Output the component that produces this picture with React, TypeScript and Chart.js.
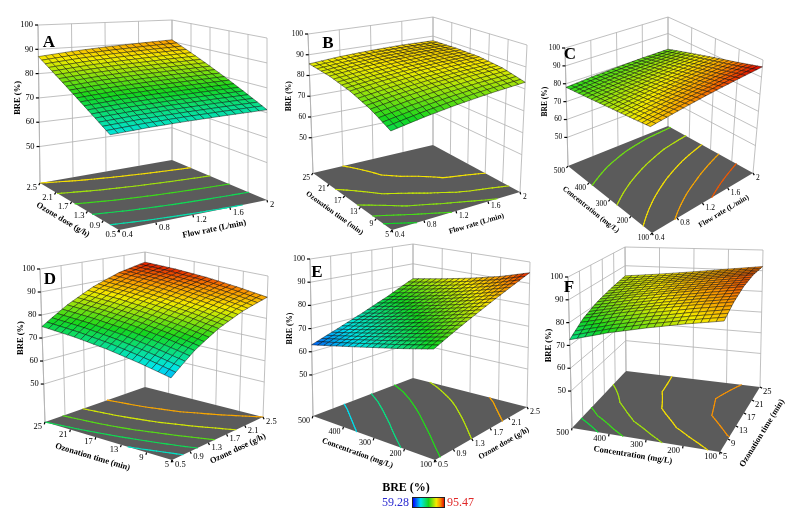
import { useEffect, useRef } from "react"
import { Chart, registerables, type Plugin } from "chart.js"

Chart.register(...registerables)

// positions of the sampled surface values on each factor
const flowRate = [0.4, 0.8, 1.2, 1.6, 2.0]
const ozoneDose = [0.5, 1.0, 1.5, 2.0, 2.5]
const ozonationTime = [5, 10, 15, 20, 25]
const concentration = [100, 200, 300, 400, 500]

// tick labels on the floor axes and the BRE axis
const flowTicks = [0.4, 0.8, 1.2, 1.6, 2]
const doseTicks = [0.5, 0.9, 1.3, 1.7, 2.1, 2.5]
const timeTicks = [5, 9, 13, 17, 21, 25]
const concTicks = [100, 200, 300, 400, 500]
const breTicks = [50, 60, 70, 80, 90, 100]

const breRange = [59.28, 95.47]

// BRE (%) read off the surfaces; rows follow the left floor axis, columns the right one
// A: rows ozone dose, columns flow rate
const breA = [
  [69.0, 69.9, 70.5, 70.9, 71.2],
  [73.5, 74.5, 75.2, 75.7, 76.1],
  [78.0, 79.1, 79.9, 80.5, 81.0],
  [82.5, 83.7, 84.6, 85.3, 85.9],
  [87.0, 88.3, 89.3, 90.1, 90.8],
]
// B: rows ozonation time, columns flow rate
const breB = [
  [75.0, 77.6, 79.8, 81.6, 83.0],
  [79.6, 81.8, 83.6, 85.0, 85.9],
  [82.8, 84.6, 86.0, 86.9, 87.4],
  [84.8, 86.2, 87.2, 87.7, 87.8],
  [85.6, 86.8, 87.5, 87.8, 87.6],
]
// C: rows concentration, columns flow rate
const breC = [
  [88.0, 90.2, 92.3, 94.2, 96.0],
  [85.6, 87.4, 89.1, 90.7, 92.2],
  [83.2, 84.7, 86.1, 87.4, 88.6],
  [80.6, 81.9, 83.0, 84.0, 84.7],
  [78.0, 79.0, 79.8, 80.3, 80.5],
]
// D: rows ozonation time, columns ozone dose
const breD = [
  [66.0, 74.2, 80.8, 86.0, 90.0],
  [69.0, 76.9, 83.2, 88.2, 92.0],
  [71.6, 79.2, 85.2, 90.0, 93.6],
  [73.6, 80.9, 86.8, 91.4, 94.6],
  [75.0, 82.0, 87.8, 92.2, 95.0],
]
// E: rows concentration, columns ozone dose
const breE = [
  [77.0, 81.4, 85.8, 90.3, 95.0],
  [73.4, 77.6, 81.9, 86.4, 91.0],
  [70.0, 74.0, 78.3, 82.8, 87.8],
  [66.5, 70.4, 74.7, 79.5, 85.0],
  [63.0, 66.9, 71.3, 76.4, 82.5],
]
// F: rows concentration, columns ozonation time
const breF = [
  [88.0, 91.2, 93.0, 93.3, 92.0],
  [85.0, 88.5, 90.5, 91.0, 90.2],
  [81.5, 85.4, 87.7, 88.5, 88.2],
  [77.5, 81.8, 84.5, 85.8, 86.3],
  [72.5, 77.6, 80.8, 82.9, 84.6],
]

type XY = [number, number]
type Corners = { F: XY; R: XY; L: XY; B: XY }
type Panel = {
  letter: string
  letterAt: XY
  box: [number, number, number, number]
  leftAxis: number[]
  rightAxis: number[]
  leftTicks: number[]
  rightTicks: number[]
  leftTitle: string
  rightTitle: string
  grid: number[][]
  levels: number[]
  floor: Corners
  top: Corners
  zFloor: number
  fs: number
  leftTitleAt?: [number, number]
  rightTitleAt?: [number, number]
}

const panels: Panel[] = [
  {
    letter: "A", letterAt: [49, 43], box: [0, 0, 280, 250],
    leftAxis: ozoneDose, rightAxis: flowRate, leftTicks: doseTicks, rightTicks: flowTicks,
    leftTitle: "Ozone dose (g/h)", rightTitle: "Flow rate (L/min)",
    grid: breA, levels: [71, 75, 79, 83, 87],
    floor: { F: [119, 230], R: [267, 200], L: [40, 183], B: [172, 160] },
    top: { F: [102, 48], R: [267, 38], L: [38, 25], B: [172, 20] },
    zFloor: 35, fs: 8.5,
  },
  {
    letter: "B", letterAt: [328, 44], box: [255, 0, 280, 250],
    leftAxis: ozonationTime, rightAxis: flowRate, leftTicks: timeTicks, rightTicks: flowTicks,
    leftTitle: "Ozonation time (min)", rightTitle: "Flow rate (L/min)",
    grid: breB, levels: [77, 79.5, 82, 84.5, 86.8],
    floor: { F: [392, 230], R: [520, 192], L: [313, 173], B: [433, 145] },
    top: { F: [390, 72], R: [527, 45], L: [308, 34], B: [433, 17] },
    zFloor: 33, fs: 7.5,
  },
  {
    letter: "C", letterAt: [570, 55], box: [510, 0, 276, 250],
    leftAxis: concentration, rightAxis: flowRate, leftTicks: concTicks, rightTicks: flowTicks,
    leftTitle: "Concentration (mg/L)", rightTitle: "Flow rate (L/min)",
    grid: breC, levels: [81, 84, 87, 90, 93],
    floor: { F: [652, 233], R: [753, 173], L: [568, 166], B: [668, 126] },
    top: { F: [650, 103], R: [763, 60], L: [565, 48], B: [668, 17] },
    zFloor: 34, fs: 7.5,
  },
  {
    letter: "D", letterAt: [50, 280], box: [0, 238, 280, 250],
    leftAxis: ozonationTime, rightAxis: ozoneDose, leftTicks: timeTicks, rightTicks: doseTicks,
    leftTitle: "Ozonation time (min)", rightTitle: "Ozone dose (g/h)",
    grid: breD, levels: [70, 75, 80, 85, 90],
    floor: { F: [172, 460], R: [263, 417], L: [45, 422], B: [145, 387] },
    top: { F: [170, 292], R: [268, 276], L: [40, 269], B: [145, 252] },
    zFloor: 33.5, fs: 8.5, rightTitleAt: [0.64, 18],
  },
  {
    letter: "E", letterAt: [317, 273], box: [255, 238, 290, 250],
    leftAxis: concentration, rightAxis: ozoneDose, leftTicks: concTicks, rightTicks: doseTicks,
    leftTitle: "Concentration (mg/L)", rightTitle: "Ozone dose (g/h)",
    grid: breE, levels: [68, 73, 78, 84, 90],
    floor: { F: [435, 460], R: [527, 407], L: [313, 416], B: [413, 378] },
    top: { F: [433, 292], R: [530, 262], L: [310, 259], B: [413, 244] },
    zFloor: 32.3, fs: 8, rightTitleAt: [0.64, 20],
  },
  {
    letter: "F", letterAt: [569, 288], box: [510, 238, 276, 277],
    leftAxis: concentration, rightAxis: ozonationTime, leftTicks: concTicks, rightTicks: timeTicks,
    leftTitle: "Concentration (mg/L)", rightTitle: "Ozonation time (min)",
    grid: breF, levels: [76, 79, 83, 87, 91],
    floor: { F: [720, 452], R: [760, 387], L: [572, 428], B: [626, 371] },
    top: { F: [725, 292], R: [763, 250], L: [568, 277], B: [625, 247] },
    zFloor: 33.8, fs: 8.5, leftTitleAt: [0.43, 17], rightTitleAt: [0.5, 26],
  },
]

const colorStops: [number, number, number, number][] = [
  [0, 0, 0, 255],
  [0.25, 0, 230, 235],
  [0.5, 20, 215, 30],
  [0.75, 245, 235, 0],
  [0.88, 250, 145, 0],
  [1, 225, 15, 0],
]

function breColor(z: number) {
  const t = Math.max(0, Math.min(1, (z - breRange[0]) / (breRange[1] - breRange[0])))
  for (let k = 1; k < colorStops.length; k++) {
    const a = colorStops[k - 1]
    const b = colorStops[k]
    if (t <= b[0]) {
      const f = (t - a[0]) / (b[0] - a[0])
      const c = [1, 2, 3].map((i) => Math.round(a[i] + (b[i] - a[i]) * f))
      return `rgb(${c[0]},${c[1]},${c[2]})`
    }
  }
  return "rgb(225,15,0)"
}

const gradientCss = `linear-gradient(to right, ${colorStops
  .map((s) => `rgb(${s[1]},${s[2]},${s[3]}) ${s[0] * 100}%`)
  .join(", ")})`

function bil(c: Corners, u: number, v: number): XY {
  return [
    c.F[0] * (1 - u) * (1 - v) + c.R[0] * u * (1 - v) + c.L[0] * (1 - u) * v + c.B[0] * u * v,
    c.F[1] * (1 - u) * (1 - v) + c.R[1] * u * (1 - v) + c.L[1] * (1 - u) * v + c.B[1] * u * v,
  ]
}

// value of the read grid at a point of the floor (u along right axis, v along left axis)
function zAt(grid: number[][], u: number, v: number) {
  const nr = grid.length - 1
  const nc = grid[0].length - 1
  const fi = v * nr
  const fj = u * nc
  const i = Math.min(Math.floor(fi), nr - 1)
  const j = Math.min(Math.floor(fj), nc - 1)
  const a = fi - i
  const b = fj - j
  return (
    grid[i][j] * (1 - a) * (1 - b) +
    grid[i][j + 1] * (1 - a) * b +
    grid[i + 1][j] * a * (1 - b) +
    grid[i + 1][j + 1] * a * b
  )
}

function surfacePlugin(p: Panel): Plugin<"scatter"> {
  return {
    id: "surface3d",
    afterDraw(chart) {
      const ctx = chart.ctx
      const sx = chart.scales.x
      const sy = chart.scales.y
      const toPx = (pt: XY): XY => [sx.getPixelForValue(pt[0]), sy.getPixelForValue(pt[1])]
      const proj = (u: number, v: number, z: number): XY => {
        const w = (z - p.zFloor) / (100 - p.zFloor)
        const f = bil(p.floor, u, v)
        const t = bil(p.top, u, v)
        return toPx([f[0] + (t[0] - f[0]) * w, f[1] + (t[1] - f[1]) * w])
      }
      const nu = (val: number) => (val - p.rightAxis[0]) / (p.rightAxis[p.rightAxis.length - 1] - p.rightAxis[0])
      const nv = (val: number) => (val - p.leftAxis[0]) / (p.leftAxis[p.leftAxis.length - 1] - p.leftAxis[0])
      const line = (a: XY, b: XY) => {
        ctx.beginPath()
        ctx.moveTo(a[0], a[1])
        ctx.lineTo(b[0], b[1])
        ctx.stroke()
      }
      const serif = "'Liberation Serif', 'Times New Roman', serif"

      ctx.save()
      // back walls
      ctx.strokeStyle = "#b0b0b0"
      ctx.lineWidth = 0.8
      for (const t of p.rightTicks) line(proj(nu(t), 1, p.zFloor), proj(nu(t), 1, 100))
      for (const t of p.leftTicks) line(proj(1, nv(t), p.zFloor), proj(1, nv(t), 100))
      for (const z of breTicks) {
        line(proj(0, 1, z), proj(1, 1, z))
        line(proj(1, 1, z), proj(1, 0, z))
      }

      // floor
      const fl = [proj(0, 0, p.zFloor), proj(1, 0, p.zFloor), proj(1, 1, p.zFloor), proj(0, 1, p.zFloor)]
      ctx.fillStyle = "#5b5b5b"
      ctx.beginPath()
      fl.forEach((q, k) => (k ? ctx.lineTo(q[0], q[1]) : ctx.moveTo(q[0], q[1])))
      ctx.closePath()
      ctx.fill()

      // contour lines on the floor (marching squares over the read grid)
      const n = 48
      const zg: number[][] = []
      for (let i = 0; i <= n; i++) {
        const row: number[] = []
        for (let j = 0; j <= n; j++) row.push(zAt(p.grid, j / n, i / n))
        zg.push(row)
      }
      ctx.lineWidth = 1.1
      ctx.lineCap = "round"
      for (const lev of p.levels) {
        ctx.strokeStyle = breColor(lev)
        for (let i = 0; i < n; i++) {
          for (let j = 0; j < n; j++) {
            const cu = [j, j + 1, j + 1, j]
            const cv = [i, i, i + 1, i + 1]
            const cz = [zg[i][j], zg[i][j + 1], zg[i + 1][j + 1], zg[i + 1][j]]
            const pts: XY[] = []
            for (let k = 0; k < 4; k++) {
              const k2 = (k + 1) % 4
              const above1 = cz[k] >= lev
              const above2 = cz[k2] >= lev
              if (above1 !== above2) {
                const f = (lev - cz[k]) / (cz[k2] - cz[k])
                pts.push(proj((cu[k] + (cu[k2] - cu[k]) * f) / n, (cv[k] + (cv[k2] - cv[k]) * f) / n, p.zFloor))
              }
            }
            for (let k = 0; k + 1 < pts.length; k += 2) line(pts[k], pts[k + 1])
          }
        }
      }
      ctx.lineCap = "butt"

      // floor axes: ticks, labels and titles
      const cx = (fl[0][0] + fl[1][0] + fl[2][0] + fl[3][0]) / 4
      const cy = (fl[0][1] + fl[1][1] + fl[2][1] + fl[3][1]) / 4
      const outward = (a: XY, b: XY): XY => {
        const dx = b[0] - a[0]
        const dy = b[1] - a[1]
        const len = Math.hypot(dx, dy)
        let nx = -dy / len
        let ny = dx / len
        if (nx * ((a[0] + b[0]) / 2 - cx) + ny * ((a[1] + b[1]) / 2 - cy) < 0) {
          nx = -nx
          ny = -ny
        }
        return [nx, ny]
      }
      const drawTitle = (a: XY, b: XY, text: string, at: [number, number]) => {
        const nrm = outward(a, b)
        const x = a[0] + (b[0] - a[0]) * at[0] + nrm[0] * at[1]
        const y = a[1] + (b[1] - a[1]) * at[0] + nrm[1] * at[1]
        ctx.save()
        ctx.translate(x, y)
        ctx.rotate(Math.atan2(b[1] - a[1], b[0] - a[0]))
        ctx.textAlign = "center"
        ctx.textBaseline = "middle"
        ctx.fillText(text, 0, 0)
        ctx.restore()
      }
      ctx.strokeStyle = "#000"
      ctx.fillStyle = "#000"
      ctx.lineWidth = 1.2
      ctx.font = `${p.fs}px ${serif}`
      ctx.textBaseline = "middle"
      const nl = outward(fl[3], fl[0])
      ctx.textAlign = "right"
      for (const t of p.leftTicks) {
        const q = proj(0, nv(t), p.zFloor)
        line(q, [q[0] + nl[0] * 2.5, q[1] + nl[1] * 2.5])
        ctx.fillText(String(t), q[0] - 3, q[1] + 5)
      }
      const nr = outward(fl[0], fl[1])
      ctx.textAlign = "left"
      for (const t of p.rightTicks) {
        const q = proj(nu(t), 0, p.zFloor)
        line(q, [q[0] + nr[0] * 2.5, q[1] + nr[1] * 2.5])
        ctx.fillText(String(t), q[0] + 3, q[1] + 5)
      }
      ctx.font = `bold ${p.fs}px ${serif}`
      drawTitle(fl[3], fl[0], p.leftTitle, p.leftTitleAt ?? [0.42, 20])
      drawTitle(fl[0], fl[1], p.rightTitle, p.rightTitleAt ?? [0.62, 18])

      // BRE axis on the left vertical edge
      ctx.strokeStyle = "#b0b0b0"
      ctx.lineWidth = 0.8
      line(proj(0, 1, p.zFloor), proj(0, 1, 100))
      ctx.strokeStyle = "#000"
      ctx.lineWidth = 1.2
      ctx.font = `${p.fs}px ${serif}`
      ctx.textAlign = "right"
      for (const z of breTicks) {
        const q = proj(0, 1, z)
        line(q, [q[0] - 3, q[1]])
        ctx.fillText(String(z), q[0] - 5, q[1])
      }
      const qt = proj(0, 1, 70)
      ctx.save()
      ctx.translate(qt[0] - 21, qt[1])
      ctx.rotate(-Math.PI / 2)
      ctx.textAlign = "center"
      ctx.font = `bold ${p.fs}px ${serif}`
      ctx.fillText("BRE (%)", 0, 0)
      ctx.restore()

      // response surface, drawn back to front; each read cell is split into a finer mesh for drawing
      const S = 5
      const mu = (p.grid[0].length - 1) * S
      const mv = (p.grid.length - 1) * S
      const quads: [number, number][] = []
      for (let i = 0; i < mv; i++) for (let j = 0; j < mu; j++) quads.push([i, j])
      quads.sort((a, b) => (b[0] / mv + b[1] / mu) - (a[0] / mv + a[1] / mu))
      ctx.lineWidth = 0.55
      ctx.strokeStyle = "rgba(0,0,0,0.8)"
      for (const [i, j] of quads) {
        const uv: XY[] = [
          [j / mu, i / mv],
          [(j + 1) / mu, i / mv],
          [(j + 1) / mu, (i + 1) / mv],
          [j / mu, (i + 1) / mv],
        ]
        const zs = uv.map((c) => zAt(p.grid, c[0], c[1]))
        const pts = uv.map((c, k) => proj(c[0], c[1], zs[k]))
        ctx.fillStyle = breColor((zs[0] + zs[1] + zs[2] + zs[3]) / 4)
        ctx.beginPath()
        pts.forEach((q, k) => (k ? ctx.lineTo(q[0], q[1]) : ctx.moveTo(q[0], q[1])))
        ctx.closePath()
        ctx.fill()
        ctx.stroke()
      }

      // panel letter
      const lp = toPx(p.letterAt)
      ctx.fillStyle = "#000"
      ctx.font = `bold 17px ${serif}`
      ctx.textAlign = "center"
      ctx.textBaseline = "middle"
      ctx.fillText(p.letter, lp[0], lp[1])
      ctx.restore()
    },
  }
}

function SurfacePanel({ panel }: { panel: Panel }) {
  const ref = useRef<HTMLCanvasElement>(null)
  const [left, top, w, h] = panel.box

  useEffect(() => {
    if (!ref.current) return
    const chart = new Chart(ref.current, {
      type: "scatter",
      data: { datasets: [{ data: [], pointRadius: 0 }] },
      options: {
        animation: false,
        responsive: false,
        events: [],
        layout: { padding: 0 },
        scales: {
          x: { type: "linear", min: left, max: left + w, display: false },
          y: { type: "linear", min: top, max: top + h, reverse: true, display: false },
        },
        plugins: { legend: { display: false }, tooltip: { enabled: false } },
      },
      plugins: [surfacePlugin(panel)],
    })
    return () => chart.destroy()
  }, [panel, left, top, w, h])

  return (
    <canvas
      ref={ref}
      width={w}
      height={h}
      style={{ position: "absolute", left, top, width: w, height: h }}
    />
  )
}

export default function App() {
  const serif = "'Liberation Serif', 'Times New Roman', serif"
  return (
    <div
      style={{
        position: "fixed",
        left: 0,
        top: 0,
        width: 786,
        height: 515,
        background: "#fff",
        overflow: "hidden",
        fontFamily: serif,
      }}
    >
      {panels.map((p) => (
        <SurfacePanel key={p.letter} panel={p} />
      ))}
      <div style={{ position: "absolute", left: 356, top: 480, width: 100, textAlign: "center", fontWeight: "bold", fontSize: 12, lineHeight: "14px" }}>
        BRE (%)
      </div>
      <div style={{ position: "absolute", left: 348, top: 495, width: 61, textAlign: "right", fontSize: 12, lineHeight: "14px", color: "#2a2ad0" }}>
        {breRange[0].toFixed(2)}
      </div>
      <div style={{ position: "absolute", left: 412, top: 497, width: 31, height: 9, border: "1px solid #222", background: gradientCss }} />
      <div style={{ position: "absolute", left: 447, top: 495, fontSize: 12, lineHeight: "14px", color: "#e02828" }}>
        {breRange[1].toFixed(2)}
      </div>
    </div>
  )
}
